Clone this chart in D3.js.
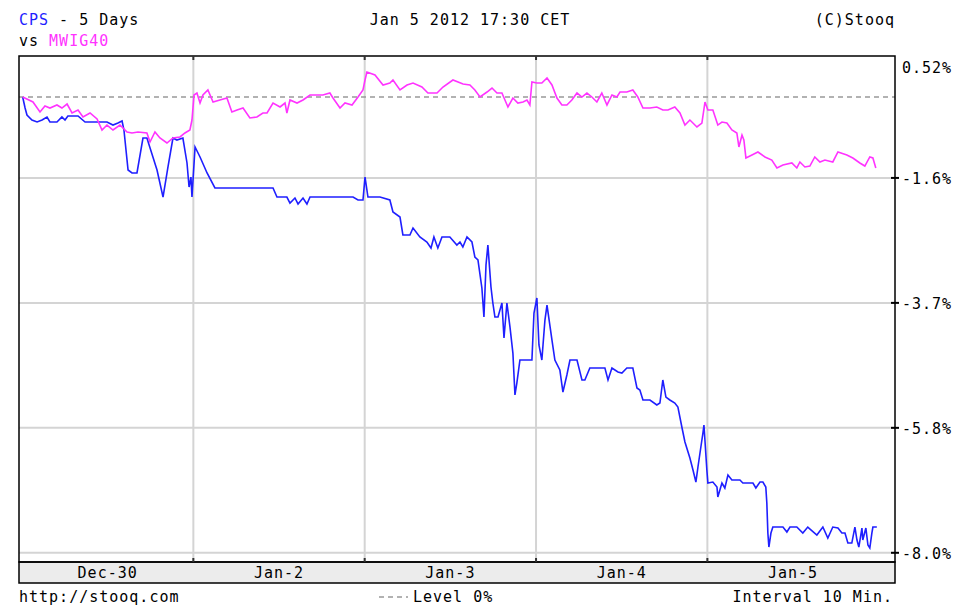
<!DOCTYPE html>
<html>
<head>
<meta charset="utf-8">
<script src="https://cdn.jsdelivr.net/npm/d3@7"></script>
<style>
    body { margin: 0; background: #fff; }
    svg text { font-family: 'DejaVu Sans Mono', monospace; font-size: 15px; letter-spacing: 1px; }
</style>
</head>
<body>
<svg id="chart" width="956" height="607"></svg>
<script>
// data

let days = ['Dec-30', 'Jan-2', 'Jan-3', 'Jan-4', 'Jan-5'];

let yTicks = [0.50, -1.36, -3.46, -5.56, -7.66];
let yTickLabels = ['0.52%', '-1.6%', '-3.7%', '-5.8%', '-8.0%'];

// [day, percent]
let cpsPoints = [
    [0.004,0],[0.018,-0.185],[0.029,-0.303],[0.058,-0.387],[0.088,-0.420],[0.117,-0.387],
    [0.146,-0.336],[0.163,-0.420],[0.204,-0.420],[0.233,-0.336],[0.251,-0.387],[0.268,-0.319],
    [0.327,-0.319],[0.368,-0.420],[0.496,-0.420],[0.531,-0.471],[0.560,-0.437],[0.584,-0.403],
    [0.595,-0.555],[0.619,-1.227],[0.642,-1.277],[0.671,-1.277],[0.706,-0.689],[0.729,-0.689],
    [0.788,-1.227],[0.823,-1.681],[0.852,-1.176],[0.881,-0.689],[0.904,-0.723],[0.939,-0.689],
    [0.963,-1.109],[0.975,-1.513],[0.986,-1.345],[0.992,-1.681],
    [1.010,-0.840],[1.039,-1.008],[1.080,-1.277],[1.126,-1.529],[1.465,-1.529],[1.488,-1.681],
    [1.546,-1.681],[1.564,-1.782],[1.593,-1.697],[1.611,-1.798],[1.640,-1.697],[1.663,-1.798],
    [1.681,-1.681],[1.932,-1.681],[1.961,-1.731],[1.990,-1.731],[2.002,-1.345],
    [2.019,-1.681],[2.089,-1.681],[2.147,-1.731],[2.165,-1.933],[2.206,-2.017],[2.223,-2.319],
    [2.264,-2.319],[2.282,-2.202],[2.322,-2.353],[2.363,-2.437],[2.387,-2.538],[2.404,-2.353],
    [2.427,-2.538],[2.451,-2.353],[2.497,-2.353],[2.538,-2.487],[2.556,-2.437],[2.573,-2.521],
    [2.597,-2.353],[2.626,-2.437],[2.643,-2.689],[2.661,-2.739],[2.684,-3.210],[2.696,-3.697],
    [2.708,-2.824],[2.719,-2.487],[2.737,-3.193],[2.748,-3.462],[2.760,-3.697],[2.778,-3.697],
    [2.801,-3.462],[2.813,-4.050],[2.830,-3.462],[2.848,-3.866],[2.865,-4.303],[2.877,-5.008],
    [2.888,-4.807],[2.906,-4.420],[2.976,-4.420],[2.988,-3.630],[3.005,-3.378],[3.017,-4.168],
    [3.034,-4.420],
    [3.052,-3.748],[3.064,-3.496],[3.093,-4.084],[3.110,-4.420],[3.139,-4.588],[3.157,-4.958],
    [3.180,-4.672],[3.198,-4.420],[3.239,-4.420],[3.268,-4.756],[3.285,-4.756],[3.314,-4.555],
    [3.402,-4.555],[3.420,-4.756],[3.443,-4.555],[3.478,-4.622],[3.501,-4.639],[3.530,-4.555],
    [3.565,-4.555],[3.589,-4.891],[3.606,-4.924],[3.624,-5.092],[3.665,-5.092],[3.705,-5.176],
    [3.723,-5.143],[3.740,-4.756],[3.758,-5.042],[3.781,-5.092],[3.810,-5.143],[3.828,-5.210],
    [3.851,-5.546],[3.869,-5.798],[3.898,-6.067],[3.916,-6.269],[3.933,-6.471],[3.945,-6.218],
    [3.962,-5.882],[3.974,-5.647],[3.980,-5.513],[3.997,-6.269],
    [4.003,-6.487],[4.032,-6.471],[4.056,-6.555],[4.061,-6.723],[4.085,-6.487],[4.102,-6.571],
    [4.120,-6.353],[4.143,-6.437],[4.190,-6.437],[4.207,-6.487],[4.266,-6.487],[4.283,-6.571],
    [4.307,-6.471],[4.324,-6.471],[4.341,-6.555],[4.347,-6.824],[4.353,-7.328],[4.359,-7.563],
    [4.371,-7.328],[4.382,-7.227],[4.441,-7.227],[4.464,-7.311],[4.482,-7.227],[4.522,-7.227],
    [4.557,-7.328],[4.586,-7.227],[4.639,-7.361],[4.674,-7.227],[4.703,-7.412],[4.732,-7.227],
    [4.762,-7.244],[4.785,-7.328],[4.803,-7.328],[4.820,-7.496],[4.843,-7.496],[4.861,-7.227],
    [4.873,-7.445],[4.884,-7.563],[4.902,-7.244],[4.907,-7.445],[4.925,-7.244],[4.937,-7.529],
    [4.948,-7.580],[4.960,-7.328],[4.966,-7.227],[4.989,-7.227],
];

let mwigPoints = [
    [0.004,0],[0.064,-0.084],[0.105,-0.252],[0.134,-0.151],[0.163,-0.185],[0.204,-0.134],
    [0.233,-0.185],[0.263,-0.118],[0.292,-0.269],[0.327,-0.218],[0.356,-0.336],[0.397,-0.269],
    [0.438,-0.370],[0.467,-0.555],[0.496,-0.471],[0.531,-0.555],[0.572,-0.471],[0.613,-0.588],
    [0.642,-0.605],[0.677,-0.588],[0.729,-0.605],[0.747,-0.756],[0.776,-0.588],[0.805,-0.689],
    [0.846,-0.773],[0.881,-0.689],[0.922,-0.672],[0.951,-0.605],[0.980,-0.555],[0.992,-0.387],
    [1.004,0.034],[1.021,0.067],[1.039,-0.101],[1.056,0.034],[1.085,0.118],[1.115,-0.084],
    [1.155,-0.050],[1.196,-0.017],[1.225,-0.252],[1.255,-0.218],[1.290,-0.185],[1.330,-0.353],
    [1.371,-0.336],[1.406,-0.269],[1.430,-0.269],[1.465,-0.101],[1.506,-0.168],[1.535,-0.101],
    [1.546,-0.269],[1.564,-0.050],[1.605,-0.101],[1.640,-0.050],[1.681,0.034],[1.756,0.034],
    [1.797,0.067],[1.815,-0.017],[1.856,-0.185],[1.885,-0.101],[1.926,-0.134],[1.961,0],
    [1.990,0.118],[2.002,0.286],
    [2.013,0.420],[2.060,0.370],[2.107,0.202],[2.147,0.235],[2.165,0.286],[2.206,0.118],
    [2.247,0.202],[2.282,0.235],[2.334,0.168],[2.369,0.067],[2.422,0.067],[2.457,0.168],
    [2.515,0.286],[2.574,0.218],[2.614,0.202],[2.643,0.118],[2.673,0],[2.714,0.084],
    [2.743,0.151],[2.772,0.067],[2.801,0.067],[2.836,-0.168],[2.865,-0.017],[2.894,-0.101],
    [2.924,-0.084],[2.947,-0.050],[2.964,-0.134],[2.976,0.252],
    [3.005,0.235],[3.034,0.235],[3.064,0.319],[3.093,0.202],[3.122,-0.017],[3.151,-0.134],
    [3.180,-0.134],[3.209,-0.050],[3.239,0.067],[3.268,0],[3.297,0.067],[3.326,0],
    [3.355,-0.084],[3.384,0.067],[3.414,-0.134],[3.443,0.034],[3.472,0],[3.490,0.084],
    [3.530,0.084],[3.565,0.118],[3.594,0],[3.624,-0.185],[3.665,-0.185],[3.705,-0.168],
    [3.740,-0.218],[3.770,-0.218],[3.810,-0.168],[3.840,-0.269],[3.869,-0.471],[3.898,-0.387],
    [3.939,-0.504],[3.968,-0.437],[3.986,-0.084],
    [4.003,-0.218],[4.032,-0.218],[4.061,-0.471],[4.085,-0.420],[4.114,-0.437],[4.143,-0.555],
    [4.172,-0.605],[4.184,-0.840],[4.202,-0.639],[4.213,-0.723],[4.225,-1.025],[4.260,-0.975],
    [4.295,-0.924],[4.336,-1.008],[4.376,-1.059],[4.406,-1.193],[4.441,-1.143],[4.493,-1.109],
    [4.522,-1.193],[4.540,-1.092],[4.569,-1.176],[4.598,-1.160],[4.627,-1.008],[4.657,-1.092],
    [4.686,-1.059],[4.732,-1.092],[4.762,-0.924],[4.814,-0.975],[4.849,-1.025],[4.890,-1.109],
    [4.919,-1.160],[4.948,-1.008],[4.966,-1.025],[4.983,-1.193],
];

// layout

let plotL = 19, plotR = 895, plotT = 56, plotB = 562, bandB = 583;

let blue = '#1f1fff';
let pink = '#ff33ff';

let svg = d3.select('#chart');

let x = d3.scaleLinear()
    .domain([0, 5.095])
    .range([22, plotR]);

let y = d3.scaleLinear()
    .domain([0, -7.66])
    .range([97, 552.8]);

// grid

svg.selectAll('.hgrid')
    .data(yTicks.slice(1))
    .enter()
    .append('line')
    .classed('hgrid', 1)
    .attr('x1', plotL)
    .attr('x2', plotR)
    .attr('y1', (d) => y(d))
    .attr('y2', (d) => y(d))
    .attr('stroke', '#d4d4d4')
    .attr('stroke-width', 2);

svg.selectAll('.vgrid')
    .data(d3.range(1, days.length))
    .enter()
    .append('line')
    .classed('vgrid', 1)
    .attr('x1', (d) => x(d))
    .attr('x2', (d) => x(d))
    .attr('y1', plotT)
    .attr('y2', plotB)
    .attr('stroke', '#d4d4d4')
    .attr('stroke-width', 2);

// level 0%

svg.append('line')
    .attr('x1', plotL)
    .attr('x2', plotR)
    .attr('y1', y(0))
    .attr('y2', y(0))
    .attr('stroke', '#999')
    .attr('stroke-width', 1.5)
    .attr('stroke-dasharray', '5,4');

// series

let line = d3.line()
    .x((d) => x(d[0]))
    .y((d) => y(d[1]));

svg.append('path')
    .datum(cpsPoints)
    .attr('d', line)
    .attr('fill', 'none')
    .attr('stroke', blue)
    .attr('stroke-width', 1.6);

svg.append('path')
    .datum(mwigPoints)
    .attr('d', line)
    .attr('fill', 'none')
    .attr('stroke', pink)
    .attr('stroke-width', 1.6);

// frame + day band

svg.append('rect')
    .attr('x', plotL)
    .attr('y', plotB)
    .attr('width', plotR - plotL)
    .attr('height', bandB - plotB)
    .attr('fill', '#ececec')
    .attr('stroke', '#000')
    .attr('stroke-width', 1.5);

svg.append('rect')
    .attr('x', plotL)
    .attr('y', plotT)
    .attr('width', plotR - plotL)
    .attr('height', plotB - plotT)
    .attr('fill', 'none')
    .attr('stroke', '#000')
    .attr('stroke-width', 1.5);

svg.selectAll('.daylabel')
    .data(days)
    .enter()
    .append('text')
    .classed('daylabel', 1)
    .attr('x', (d, i) => x(i + 0.5))
    .attr('y', 578)
    .attr('text-anchor', 'middle')
    .text((d) => d);

// day ticks on top and bottom borders
d3.range(1, days.length).forEach((d) => {
    svg.append('line')
        .attr('x1', x(d)).attr('x2', x(d))
        .attr('y1', plotT).attr('y2', plotT + 4)
        .attr('stroke', '#333').attr('stroke-width', 2);
    svg.append('line')
        .attr('x1', x(d)).attr('x2', x(d))
        .attr('y1', plotB - 4).attr('y2', plotB)
        .attr('stroke', '#333').attr('stroke-width', 2);
});

// right axis

let yAxis = svg.append('g')
    .attr('transform', `translate(${plotR},0)`)
    .call(d3.axisRight(y)
        .tickValues(yTicks)
        .tickSize(0)
        .tickPadding(7)
        .tickFormat((d, i) => yTickLabels[i]));

yAxis.select('.domain').remove();
yAxis.attr('font-family', null).attr('font-size', null);
yAxis.selectAll('text').attr('fill', '#000').attr('dy', '0.35em');

svg.selectAll('.ytick')
    .data(yTicks.slice(1))
    .enter()
    .append('line')
    .classed('ytick', 1)
    .attr('x1', plotR - 4)
    .attr('x2', plotR + 4)
    .attr('y1', (d) => y(d))
    .attr('y2', (d) => y(d))
    .attr('stroke', '#000')
    .attr('stroke-width', 2);

// header

let head = svg.append('text').attr('x', plotL).attr('y', 25);
head.append('tspan').attr('fill', blue).text('CPS');
head.append('tspan').attr('fill', '#000').text(' - 5 Days');

let head2 = svg.append('text').attr('x', plotL).attr('y', 46);
head2.append('tspan').attr('fill', '#000').text('vs ');
head2.append('tspan').attr('fill', pink).text('MWIG40');

svg.append('text')
    .attr('x', 470)
    .attr('y', 25)
    .attr('text-anchor', 'middle')
    .text('Jan 5 2012 17:30 CET');

svg.append('text')
    .attr('x', plotR)
    .attr('y', 25)
    .attr('text-anchor', 'end')
    .text('(C)Stooq');

// footer

svg.append('text')
    .attr('x', plotL)
    .attr('y', 602)
    .text('http://stooq.com');

svg.append('line')
    .attr('x1', 379)
    .attr('x2', 408)
    .attr('y1', 597)
    .attr('y2', 597)
    .attr('stroke', '#999')
    .attr('stroke-width', 1.5)
    .attr('stroke-dasharray', '5,4');

svg.append('text')
    .attr('x', 413)
    .attr('y', 602)
    .text('Level 0%');

svg.append('text')
    .attr('x', 893)
    .attr('y', 602)
    .attr('text-anchor', 'end')
    .text('Interval 10 Min.');
</script>
</body>
</html>
